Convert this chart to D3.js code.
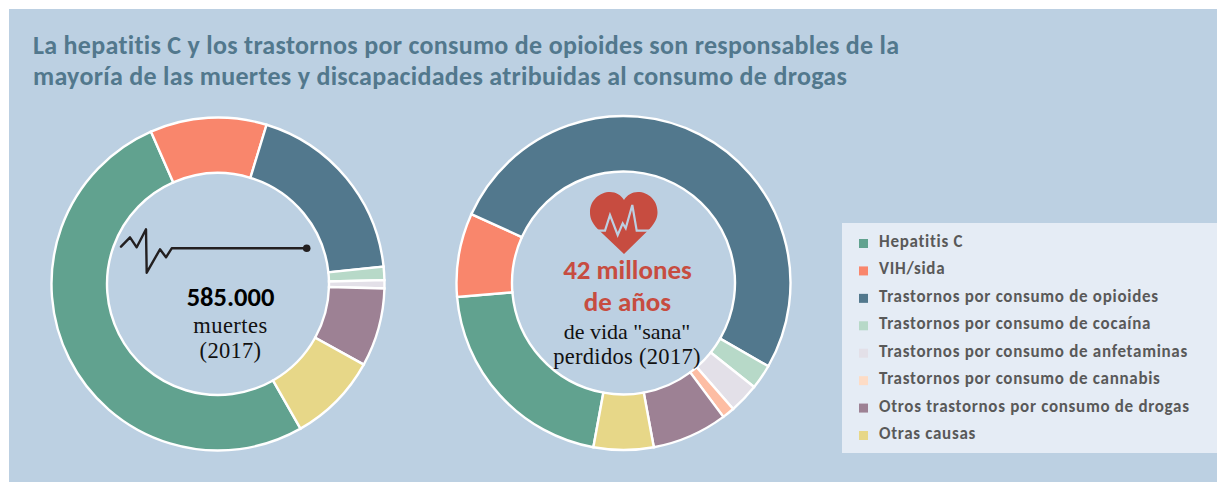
<!DOCTYPE html>
<html><head><meta charset="utf-8">
<script src="https://cdn.jsdelivr.net/npm/d3@7"></script>
<style>html,body{margin:0;padding:0;background:#fff}svg{display:block}text{font-variant-ligatures:none}</style>
</head><body><div id="c"></div>
<script>
const categories=["Hepatitis C","VIH/sida","Trastornos por consumo de opioides","Trastornos por consumo de cocaína","Trastornos por consumo de anfetaminas","Trastornos por consumo de cannabis","Otros trastornos por consumo de drogas","Otras causas"];
const colors=["#61a28f","#f9866c","#52788d","#b7d9c8","#e3e0e8","#fddcc6","#9d8194","#e7d788"];
const deaths=[51.6,11.3,18.6,1.3,0.8,0,7.6,8.7];
const dalys=[20.8,8.1,51.6,2.4,2.9,1.2,7.3,5.8];
const dalyColorsOverride={5:"#fdbda3"};
const titleLines=["La hepatitis C y los trastornos por consumo de opioides son responsables de la","mayoría de las muertes y discapacidades atribuidas al consumo de drogas"];
const pulse=[[0,17.7],[9,8.3],[15.7,18.3],[25,0.3],[25.7,43.7],[39,20.3],[45,28.3],[50.7,19.3],[185.7,19.3]];
const heartPulse=[[5,38.7],[15,38.7],[20,23],[27.7,43],[32.7,31.3],[35.7,36.3],[42.3,13],[46.7,38.7],[62,38.7]];
const W=1217,H=482;
const svg=d3.select("#c").append("svg").attr("width",W).attr("height",H).attr("viewBox",[0,0,W,H]);
const sans="Carlito,Lato,'Open Sans',sans-serif", serif="'Liberation Serif',serif";
svg.append("rect").attr("x",9).attr("y",9).attr("width",W-9).attr("height",H-9).attr("fill","#bcd0e2");
svg.selectAll("text.t").data(titleLines).join("text").attr("class","t")
 .attr("x",33).attr("y",(d,i)=>54+i*31).attr("font-family",sans).attr("font-weight",700).attr("font-size",26)
 .attr("letter-spacing",0.3).attr("fill","#52788d").text(d=>d);

function donut(values,cx,cy,ro,ri,startDeg,cols){
  const pie=d3.pie().sort(null).value(d=>d).startAngle(startDeg*Math.PI/180).endAngle((startDeg+360)*Math.PI/180);
  const arc=d3.arc().innerRadius(ri).outerRadius(ro);
  const g=svg.append("g").attr("transform",`translate(${cx},${cy})`);
  g.selectAll("path").data(pie(values).filter(d=>d.value>0)).join("path")
   .attr("d",arc).attr("fill",d=>cols[d.index]).attr("stroke","#fff").attr("stroke-width",2.4);
  return g;
}
donut(deaths,218,284,166.5,111,150.3,colors);
donut(dalys,623.5,283,167,111.5,190.4,colors.map((c,i)=>dalyColorsOverride[i]||c));

// pulse line icon
const sx=d3.scaleLinear().domain([0,185.7]).range([121,306.7]);
const sy=d3.scaleLinear().domain([0,44]).range([229,273]);
const lineP=d3.line().x(d=>sx(d[0])).y(d=>sy(d[1]));
svg.append("path").attr("d",lineP(pulse)).attr("fill","none").attr("stroke","#231f20").attr("stroke-width",2.4).attr("stroke-linejoin","round").attr("stroke-linecap","round");
svg.append("circle").attr("cx",sx(185.7)).attr("cy",sy(19.3)).attr("r",3.8).attr("fill","#231f20");

const tx=(x,y,s,size,fam,w,col,ls)=>svg.append("text").attr("x",x).attr("y",y).attr("text-anchor","middle")
  .attr("font-family",fam).attr("font-weight",w).attr("font-size",size).attr("letter-spacing",ls||0).attr("fill",col).text(s);
tx(230.5,306,"585.000",26.5,sans,700,"#000");
tx(230.5,333,"muertes",22.5,serif,400,"#111",0.5);
tx(230.5,358,"(2017)",22.5,serif,400,"#111",0.3);

// heart
const heart=svg.append("g").attr("transform","translate(590,192)");
heart.append("path").attr("d","M34 62 L7.7 37 C1 30 0 25 0 20 C0 8 10 0 20 0 C26 0 31 3 34 8 C37 3 42 0 48 0 C58 0 67.5 8 67.5 20 C67.5 25 66 30 59.5 37 Z").attr("fill","#c74c40");
heart.append("path").attr("d",d3.line()(heartPulse)).attr("fill","none").attr("stroke","#bcd0e2").attr("stroke-width",2.2);
tx(627.5,279,"42 millones",27,sans,700,"#c74c40");
tx(627.5,311,"de años",27,sans,700,"#c74c40");
tx(627,339,'de vida "sana"',22,serif,400,"#111");
tx(627,364,"perdidos (2017)",22.5,serif,400,"#111",0.3);

// legend
svg.append("rect").attr("x",842).attr("y",223).attr("width",W-842).attr("height",230).attr("fill","#e5ecf5");
const ly=d3.scalePoint().domain(categories).range([243,435]);
const legend=svg.selectAll("g.l").data(categories).join("g").attr("class","l");
legend.append("rect").attr("x",859).attr("y",d=>ly(d)-4).attr("width",9).attr("height",9).attr("fill",(d,i)=>colors[i]);
legend.append("text").attr("x",879).attr("y",d=>ly(d)+4).attr("font-family",sans).attr("font-weight",700).attr("font-size",17).attr("letter-spacing",0.7).attr("fill","#595959").text(d=>d);
</script></body></html>
